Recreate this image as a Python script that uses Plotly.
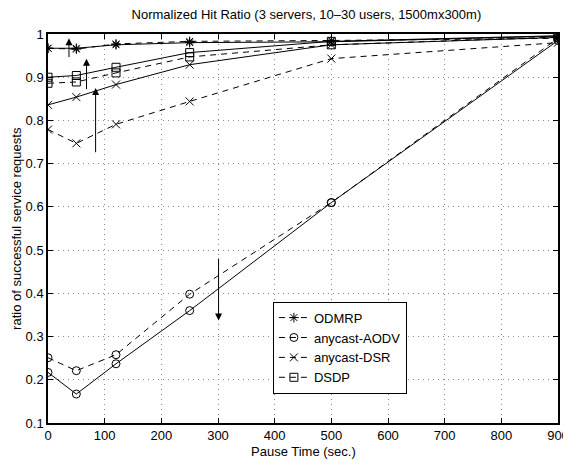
import plotly.graph_objects as go

# Pause times (sec.)
pause_time = [0, 50, 120, 250, 500, 900]

# solid = 10 users, dashed = 30 users
odmrp_solid = [0.967, 0.967, 0.975, 0.980, 0.982, 0.995]
odmrp_dashed = [0.967, 0.965, 0.977, 0.983, 0.985, 0.990]
aodv_solid = [0.217, 0.167, 0.237, 0.360, 0.610, 0.985]
aodv_dashed = [0.251, 0.221, 0.258, 0.398, 0.610, 0.990]
dsr_solid = [0.836, 0.854, 0.883, 0.929, 0.975, 0.992]
dsr_dashed = [0.779, 0.747, 0.791, 0.844, 0.943, 0.980]
dsdp_solid = [0.900, 0.904, 0.923, 0.957, 0.983, 0.996]
dsdp_dashed = [0.886, 0.889, 0.910, 0.947, 0.975, 0.993]

series = [
    ("ODMRP", odmrp_solid, odmrp_dashed, "asterisk-open"),
    ("anycast-AODV", aodv_solid, aodv_dashed, "circle-open"),
    ("anycast-DSR", dsr_solid, dsr_dashed, "x-thin-open"),
    ("DSDP", dsdp_solid, dsdp_dashed, "square-open"),
]

# arrows: (x, y_from, y_to)
arrows = [
    (37, 0.943, 0.990),
    (68, 0.869, 0.943),
    (84, 0.723, 0.875),
    (301, 0.484, 0.337),
]

fig = go.Figure()

for name, solid, dashed, symbol in series:
    fig.add_trace(go.Scatter(
        x=pause_time, y=solid, mode="lines+markers", name=name,
        line=dict(color="black", width=1, dash="solid"),
        marker=dict(symbol=symbol, size=8, color="black",
                    line=dict(color="black", width=1)),
        showlegend=False,
    ))
    fig.add_trace(go.Scatter(
        x=pause_time, y=dashed, mode="lines+markers", name=name,
        line=dict(color="black", width=1, dash="6px,5px"),
        marker=dict(symbol=symbol, size=8, color="black",
                    line=dict(color="black", width=1)),
    ))

for x, y0, y1 in arrows:
    fig.add_annotation(
        x=x, y=y1, ax=x, ay=y0, xref="x", yref="y", axref="x", ayref="y",
        text="", showarrow=True, arrowhead=2, arrowsize=1.4,
        arrowwidth=1, arrowcolor="black",
    )

font = "Liberation Sans"
label_font = dict(family=font, size=13, color="black")

# axis titles placed as annotations so the margins stay fixed
fig.add_annotation(text="Pause Time (sec.)", xref="paper", yref="paper",
                   x=0.5, y=-0.072, xanchor="center", yanchor="middle",
                   showarrow=False, font=label_font)
fig.add_annotation(text="ratio of successful service requests",
                   xref="paper", yref="paper", x=-0.062, y=0.5,
                   xanchor="center", yanchor="middle", textangle=-90,
                   showarrow=False, font=label_font)

axis_style = dict(
    showline=True, linecolor="black", linewidth=1.5, mirror="ticks",
    ticks="inside", ticklen=5, tickcolor="black",
    showgrid=True, gridcolor="#8a8a8a", griddash="1px,4px", gridwidth=1,
    zeroline=False, automargin=False,
    tickfont=label_font,
)

fig.update_xaxes(range=[0, 900], dtick=100, **axis_style)
fig.update_yaxes(range=[0.1, 1], dtick=0.1, tickformat="~g", **axis_style)

# page body adds an 8px offset, so the figure is drawn 8px smaller
fig.update_layout(
    width=563, height=452,
    margin=dict(l=40, r=13, t=26, b=37),
    plot_bgcolor="white", paper_bgcolor="white",
    title=dict(text="Normalized Hit Ratio (3 servers, 10\u201330 users, 1500mx300m)",
               x=0.53, xanchor="center", y=0.985, yanchor="middle",
               font=label_font),
    legend=dict(x=0.441, y=0.312, xanchor="left", yanchor="top",
                bordercolor="black", borderwidth=1, bgcolor="white",
                font=label_font, itemwidth=30, tracegroupgap=0),
    showlegend=True,
)

fig.write_html("out.html")
